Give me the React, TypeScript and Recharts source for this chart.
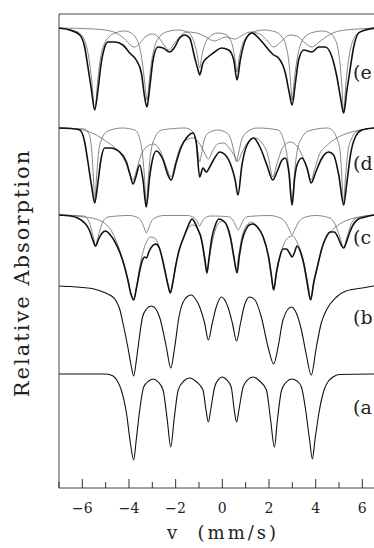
import React from 'react';
import { LineChart, Line, XAxis, YAxis } from 'recharts';

// Mossbauer spectra (a)-(e), velocity in mm/s vs. stacked relative absorption (axis runs downward)
type Pt = [number, number];

const SPEC_A: Pt[] = [
  [-7, 360], [-5.0, 360], [-4.68, 362], [-4.5, 367], [-4.33, 376], [-4.11, 399], [-3.94, 429], [-3.8, 446],
  [-3.69, 426], [-3.54, 396], [-3.37, 373], [-3.15, 367], [-2.97, 365], [-2.75, 368], [-2.54, 376], [-2.36, 406],
  [-2.21, 433], [-2.07, 406], [-1.89, 376], [-1.65, 367], [-1.41, 364], [-1.1, 368], [-0.83, 376], [-0.7, 396],
  [-0.6, 408], [-0.5, 396], [-0.33, 373], [-0.15, 365], [0, 363], [0.15, 365], [0.38, 373], [0.51, 396],
  [0.61, 408], [0.71, 396], [0.89, 373], [1.08, 366], [1.31, 363], [1.6, 367], [1.89, 376], [2.07, 406],
  [2.23, 433], [2.36, 406], [2.54, 376], [2.75, 368], [2.96, 365], [3.2, 367], [3.39, 373], [3.57, 396],
  [3.74, 426], [3.86, 445], [3.97, 426], [4.14, 399], [4.36, 376], [4.55, 367], [4.74, 363], [5.0, 360.5], [6.5, 360],
];

const SPEC_B: Pt[] = [
  [-7, 272], [-6.5, 272.5], [-6, 273.5], [-5.5, 275], [-5.0, 279], [-4.75, 282], [-4.55, 287], [-4.4, 295],
  [-4.26, 309], [-4.05, 333], [-3.92, 350], [-3.8, 362], [-3.7, 349], [-3.61, 333], [-3.42, 303], [-3.25, 295],
  [-3.04, 292], [-2.85, 295], [-2.69, 303], [-2.4, 333], [-2.21, 354], [-2.04, 333], [-1.86, 303], [-1.6, 285],
  [-1.33, 281], [-1.15, 285], [-0.97, 293], [-0.76, 309], [-0.6, 326], [-0.43, 309], [-0.26, 293], [-0.04, 283],
  [0.24, 293], [0.43, 309], [0.61, 327], [0.78, 309], [0.95, 291], [1.17, 283], [1.4, 286], [1.67, 303],
  [1.96, 333], [2.2, 350], [2.39, 333], [2.6, 306], [2.96, 293], [3.15, 298], [3.39, 316], [3.6, 341],
  [3.81, 361], [4.03, 333], [4.24, 309], [4.46, 296], [4.89, 283], [5.3, 277], [6.0, 274], [6.5, 272],
];

const SPEC_C: Pt[] = [
  [-7, 201], [-6.5, 202], [-6.2, 204], [-5.9, 209], [-5.7, 216], [-5.55, 226], [-5.43, 232], [-5.3, 225],
  [-5.15, 219], [-5.0, 217], [-4.8, 221], [-4.6, 228], [-4.4, 238], [-4.2, 252], [-4.05, 266], [-3.93, 279],
  [-3.8, 286], [-3.68, 274], [-3.55, 258], [-3.42, 246], [-3.33, 243], [-3.25, 244], [-3.15, 238], [-3.0, 232],
  [-2.85, 230], [-2.7, 234], [-2.58, 244], [-2.45, 258], [-2.32, 272], [-2.23, 279], [-2.12, 268], [-2.0, 252],
  [-1.85, 236], [-1.65, 223], [-1.45, 211], [-1.3, 205], [-1.15, 210], [-1.0, 218], [-0.93, 222], [-0.85, 231],
  [-0.75, 246], [-0.66, 259], [-0.57, 244], [-0.45, 224], [-0.3, 211], [-0.15, 205], [0.05, 207], [0.2, 212],
  [0.35, 224], [0.5, 244], [0.63, 259], [0.73, 242], [0.85, 226], [1.0, 216], [1.15, 211], [1.3, 210],
  [1.5, 213], [1.75, 223], [1.99, 244], [2.1, 261], [2.2, 276], [2.32, 258], [2.45, 244], [2.6, 235],
  [2.75, 235], [2.9, 240], [2.99, 243], [3.1, 238], [3.2, 232], [3.35, 238], [3.5, 251], [3.65, 271],
  [3.78, 286], [3.92, 268], [4.06, 254], [4.27, 234], [4.45, 223], [4.63, 218], [4.8, 218], [4.95, 223],
  [5.08, 230], [5.2, 234], [5.32, 228], [5.45, 219], [5.6, 211], [5.8, 205.5], [6.13, 203], [6.5, 201],
];

const FIT_C1: Pt[] = [
  [-7, 201], [-5.95, 202], [-5.75, 206], [-5.6, 216], [-5.5, 226], [-5.43, 232], [-5.36, 226], [-5.25, 216],
  [-5.1, 207], [-4.9, 203], [-4.0, 201.5], [-3.6, 204], [-3.45, 208], [-3.33, 215], [-3.25, 219], [-3.17, 215],
  [-3.05, 208], [-2.9, 204], [-2.5, 201.5], [-1.5, 201.5], [-1.2, 204], [-1.06, 208], [-0.97, 212], [-0.88, 208],
  [-0.75, 204], [-0.5, 202], [0.2, 202.5], [0.45, 206], [0.58, 212], [0.68, 216], [0.78, 212], [0.9, 206],
  [1.1, 202.5], [2.0, 201.5], [2.5, 204], [2.75, 210], [2.9, 217], [2.99, 221], [3.08, 217], [3.22, 210],
  [3.45, 204], [4.0, 201.5], [4.6, 204], [4.85, 211], [5.05, 224], [5.2, 234], [5.33, 224], [5.5, 211],
  [5.75, 204], [6.5, 201],
];

const FIT_C2: Pt[] = [
  [-7, 201], [-6.5, 201.5], [-5.9, 203], [-5.6, 204], [-5.3, 206], [-5.0, 210], [-4.8, 215], [-4.6, 224],
  [-4.4, 236], [-4.2, 251], [-4.05, 265], [-3.93, 278], [-3.8, 286], [-3.68, 273], [-3.55, 254], [-3.4, 238],
  [-3.25, 228], [-3.1, 223], [-2.9, 224], [-2.75, 230], [-2.6, 242], [-2.45, 257], [-2.32, 271], [-2.23, 279],
  [-2.12, 268], [-2.0, 252], [-1.85, 236], [-1.65, 223], [-1.45, 214], [-1.3, 211], [-1.15, 212], [-1.0, 218],
  [-0.85, 230], [-0.73, 246], [-0.66, 258], [-0.58, 248], [-0.45, 230], [-0.3, 216], [-0.1, 208], [0.05, 207],
  [0.2, 211], [0.35, 222], [0.48, 239], [0.59, 256], [0.7, 241], [0.85, 222], [1.05, 211], [1.25, 208],
  [1.45, 211], [1.7, 220], [1.9, 234], [2.05, 254], [2.2, 276], [2.32, 260], [2.45, 244], [2.6, 232],
  [2.8, 224], [3.0, 222], [3.2, 228], [3.4, 240], [3.58, 258], [3.7, 274], [3.79, 286], [3.9, 272],
  [4.05, 256], [4.25, 236], [4.5, 222], [4.8, 214], [5.1, 209], [5.5, 205], [6.0, 202.5], [6.5, 201],
];

const SPEC_D: Pt[] = [
  [-7, 114], [-6.5, 114.5], [-6.11, 116], [-5.9, 128], [-5.76, 148], [-5.61, 171], [-5.47, 189], [-5.33, 168],
  [-5.19, 144], [-5.04, 134], [-4.8, 134], [-4.4, 138], [-4.11, 148], [-3.95, 161], [-3.83, 170], [-3.72, 164],
  [-3.54, 151], [-3.4, 166], [-3.26, 193], [-3.12, 164], [-3.04, 151], [-2.83, 137], [-2.54, 146], [-2.33, 161],
  [-2.19, 166], [-1.97, 148], [-1.76, 133], [-1.54, 124], [-1.26, 119], [-1.12, 128], [-0.97, 163], [-0.83, 154],
  [-0.69, 158], [-0.54, 153], [-0.33, 144], [-0.11, 138], [0.13, 141], [0.41, 154], [0.55, 166], [0.67, 181],
  [0.84, 151], [1.06, 131], [1.34, 124], [1.63, 134], [1.91, 151], [2.16, 166], [2.34, 158], [2.56, 146],
  [2.7, 144], [2.85, 158], [2.99, 191], [3.1, 164], [3.2, 151], [3.41, 144], [3.63, 154], [3.81, 169],
  [3.99, 159], [4.27, 144], [4.56, 138], [4.77, 141], [4.99, 161], [5.2, 191], [5.34, 168], [5.49, 141],
  [5.7, 123], [5.99, 116], [6.5, 114],
];

const FIT_D1: Pt[] = [
  [-7, 114], [-5.9, 115], [-5.7, 121], [-5.6, 136], [-5.52, 166], [-5.47, 189], [-5.4, 166], [-5.3, 138],
  [-5.15, 124], [-4.9, 117], [-4.3, 114], [-3.75, 116], [-3.55, 124], [-3.42, 141], [-3.32, 169], [-3.26, 193],
  [-3.19, 169], [-3.08, 141], [-2.9, 124], [-2.6, 116], [-1.6, 114], [-1.3, 117], [-1.12, 128], [-1.03, 141],
  [-0.97, 148], [-0.9, 141], [-0.8, 128], [-0.6, 119], [-0.2, 116], [0.2, 119], [0.4, 128], [0.53, 141],
  [0.6, 148], [0.68, 141], [0.8, 128], [1.0, 119], [1.5, 114], [2.4, 116], [2.6, 124], [2.75, 138],
  [2.9, 166], [2.99, 191], [3.07, 166], [3.2, 138], [3.4, 124], [3.7, 117], [4.5, 114], [4.7, 116],
  [4.9, 124], [5.05, 138], [5.13, 166], [5.2, 191], [5.27, 166], [5.38, 138], [5.55, 124], [5.8, 117], [6.5, 114],
];

const FIT_D2: Pt[] = [
  [-7, 114], [-6.2, 115], [-5.8, 117], [-5.4, 121], [-5.0, 127], [-4.6, 134], [-4.3, 142], [-4.1, 151],
  [-3.95, 161], [-3.83, 166], [-3.7, 158], [-3.5, 142], [-3.2, 132], [-2.95, 130], [-2.7, 135], [-2.5, 146],
  [-2.3, 159], [-2.19, 163], [-2.05, 152], [-1.85, 136], [-1.55, 126], [-1.25, 124], [-1.0, 129], [-0.8, 137],
  [-0.6, 145], [-0.4, 136], [-0.2, 130], [0.05, 129], [0.3, 134], [0.5, 141], [0.67, 147], [0.85, 138],
  [1.1, 128], [1.4, 124], [1.7, 129], [1.95, 141], [2.16, 163], [2.35, 149], [2.6, 133], [2.9, 128],
  [3.2, 132], [3.45, 143], [3.65, 156], [3.81, 166], [3.95, 156], [4.15, 141], [4.5, 131], [4.9, 124],
  [5.4, 119], [5.9, 116], [6.5, 114],
];

const SPEC_E: Pt[] = [
  [-7, 14], [-6.54, 16], [-6.11, 21], [-5.9, 33], [-5.76, 53], [-5.61, 76], [-5.47, 96], [-5.33, 76],
  [-5.19, 49], [-5.04, 33], [-4.9, 28], [-4.61, 28], [-4.26, 31], [-3.97, 39], [-3.69, 46], [-3.47, 59],
  [-3.33, 83], [-3.23, 93], [-3.11, 73], [-2.97, 46], [-2.76, 33], [-2.54, 34], [-2.26, 38], [-2.04, 33],
  [-1.83, 24], [-1.61, 21], [-1.4, 24], [-1.19, 43], [-1.04, 56], [-0.97, 61], [-0.83, 49], [-0.61, 43],
  [-0.33, 38], [-0.04, 34], [0.27, 36], [0.49, 46], [0.63, 66], [0.77, 46], [0.99, 26], [1.27, 19],
  [1.63, 26], [1.99, 36], [2.2, 41], [2.41, 44], [2.7, 59], [2.87, 79], [2.99, 91], [3.13, 69],
  [3.27, 46], [3.49, 36], [3.84, 38], [4.13, 33], [4.41, 33], [4.7, 43], [4.91, 63], [5.06, 83],
  [5.2, 99], [5.34, 76], [5.49, 53], [5.63, 33], [5.84, 19], [6.13, 16], [6.5, 14],
];

const FIT_E1: Pt[] = [
  [-7, 14.5], [-6.3, 17], [-6.0, 22], [-5.85, 30], [-5.72, 44], [-5.6, 66], [-5.47, 96], [-5.34, 66],
  [-5.22, 44], [-5.08, 31], [-4.9, 24], [-4.6, 19], [-4.2, 17], [-3.9, 19], [-3.7, 24], [-3.55, 33],
  [-3.43, 48], [-3.33, 68], [-3.23, 86], [-3.13, 66], [-3.02, 46], [-2.88, 31], [-2.7, 23], [-2.4, 18],
  [-1.9, 16], [-1.5, 18], [-1.3, 23], [-1.16, 32], [-1.05, 44], [-0.97, 54], [-0.88, 42], [-0.76, 31],
  [-0.6, 24], [-0.2, 19], [0.1, 20], [0.3, 24], [0.45, 33], [0.55, 46], [0.63, 58], [0.72, 44],
  [0.85, 31], [1.0, 24], [1.3, 18], [1.8, 16], [2.3, 18], [2.55, 23], [2.73, 32], [2.85, 48],
  [2.92, 66], [2.99, 86], [3.08, 66], [3.2, 46], [3.33, 32], [3.5, 24], [3.8, 19], [4.3, 17],
  [4.6, 19], [4.8, 24], [4.95, 34], [5.05, 51], [5.13, 74], [5.2, 99], [5.28, 74], [5.38, 51],
  [5.5, 34], [5.65, 24], [5.9, 18], [6.5, 15],
];

const FIT_E2: Pt[] = [
  [-7, 14], [-5.5, 15], [-4.8, 17], [-4.4, 21], [-4.1, 27], [-3.9, 32], [-3.76, 33], [-3.6, 31],
  [-3.35, 24], [-3.0, 20], [-2.75, 23], [-2.5, 31], [-2.3, 36], [-2.1, 31], [-1.8, 22], [-1.5, 18],
  [-1.1, 19], [-0.7, 23], [-0.35, 27], [-0.1, 25], [0.15, 23], [0.4, 24.5], [0.56, 25], [0.8, 22],
  [1.2, 18], [1.6, 20], [1.9, 26], [2.2, 33], [2.5, 28], [2.9, 21], [3.2, 22], [3.5, 28],
  [3.84, 33], [4.15, 28], [4.5, 22], [5.0, 17], [5.8, 15], [6.5, 14],
];

const V_TICKS = [-7, -6, -5, -4, -3, -2, -1, 0, 1, 2, 3, 4, 5, 6];

const pts = (arr: Pt[]) => arr.map(([v, y]) => ({ v, y }));

const SERIES = [
  { id: 'e-fit1', data: FIT_E1, w: 0.7, c: '#555' },
  { id: 'e-fit2', data: FIT_E2, w: 0.7, c: '#555' },
  { id: 'e', data: SPEC_E, w: 1.6, c: '#111' },
  { id: 'd-fit1', data: FIT_D1, w: 0.7, c: '#555' },
  { id: 'd-fit2', data: FIT_D2, w: 0.7, c: '#555' },
  { id: 'd', data: SPEC_D, w: 1.6, c: '#111' },
  { id: 'c-fit1', data: FIT_C1, w: 0.7, c: '#555' },
  { id: 'c-fit2', data: FIT_C2, w: 0.7, c: '#555' },
  { id: 'c', data: SPEC_C, w: 1.6, c: '#111' },
  { id: 'b', data: SPEC_B, w: 1.1, c: '#111' },
  { id: 'a', data: SPEC_A, w: 1.1, c: '#111' },
];

const FONT = '"DejaVu Serif", "Liberation Serif", serif';

const BottomTick = (props: any) => {
  const { x, y, payload } = props;
  const major = payload.value % 2 === 0;
  const label = payload.value < 0 ? `\u2212${Math.abs(payload.value)}` : `${payload.value}`;
  return (
    <g>
      <line x1={x} x2={x} y1={y} y2={y - (major ? 9 : 6)} stroke="#333" strokeWidth={1} />
      {major && (
        <text x={x} y={y + 25} textAnchor="middle" fontFamily={FONT} fontSize={14} fill="#222">
          {label}
        </text>
      )}
    </g>
  );
};

const TopTick = (props: any) => {
  const { x, y, payload } = props;
  const major = payload.value % 2 === 0;
  return <line x1={x} x2={x} y1={y} y2={y + (major ? 7 : 5)} stroke="#333" strokeWidth={1} />;
};

// the right-hand parentheses fall outside the original figure, so only "(e" etc. show
const PANEL_LABELS = [
  { text: '(e', top: 72 },
  { text: '(d', top: 163 },
  { text: '(c', top: 237 },
  { text: '(b', top: 317 },
  { text: '(a', top: 407 },
];

export default function App() {
  return (
    <div style={{ position: 'absolute', left: 0, top: 0, width: 374, height: 548, overflow: 'hidden', background: '#fff' }}>
      <LineChart width={374} height={548} margin={{ top: 0, right: 0, bottom: 0, left: 0 }}>
        <XAxis
          xAxisId="top"
          orientation="top"
          type="number"
          dataKey="v"
          domain={[-7, 6.5]}
          ticks={V_TICKS}
          interval={0}
          height={14}
          tickSize={0}
          tickMargin={0}
          tickLine={false}
          axisLine={{ stroke: '#444', strokeWidth: 1 }}
          tick={<TopTick />}
        />
        <XAxis
          type="number"
          dataKey="v"
          domain={[-7, 6.5]}
          ticks={V_TICKS}
          interval={0}
          height={60}
          tickSize={0}
          tickMargin={0}
          tickLine={false}
          axisLine={{ stroke: '#444', strokeWidth: 1 }}
          tick={<BottomTick />}
        />
        <YAxis
          type="number"
          reversed
          domain={[0, 474]}
          width={59}
          tick={false}
          tickLine={false}
          axisLine={{ stroke: '#444', strokeWidth: 1 }}
        />
        {SERIES.map((s) => (
          <Line
            key={s.id}
            data={pts(s.data)}
            dataKey="y"
            type="monotone"
            stroke={s.c}
            strokeWidth={s.w}
            dot={false}
            activeDot={false}
            isAnimationActive={false}
          />
        ))}
      </LineChart>

      <div
        style={{
          position: 'absolute', left: 22, top: 273, transform: 'translate(-50%, -50%) rotate(-90deg)',
          whiteSpace: 'nowrap', fontFamily: FONT, fontSize: 21, letterSpacing: 2, color: '#222',
        }}
      >
        Relative Absorption
      </div>
      <div
        style={{
          position: 'absolute', left: 223, top: 532, transform: 'translate(-50%, -50%)',
          whiteSpace: 'pre', fontFamily: FONT, fontSize: 18, letterSpacing: 3, color: '#222',
        }}
      >
        {'v  (mm/s)'}
      </div>
      {PANEL_LABELS.map((l) => (
        <div
          key={l.text}
          style={{
            position: 'absolute', left: 353, top: l.top - 12, lineHeight: '24px',
            whiteSpace: 'nowrap', fontFamily: FONT, fontSize: 19, color: '#222',
          }}
        >
          {l.text}
        </div>
      ))}
    </div>
  );
}
